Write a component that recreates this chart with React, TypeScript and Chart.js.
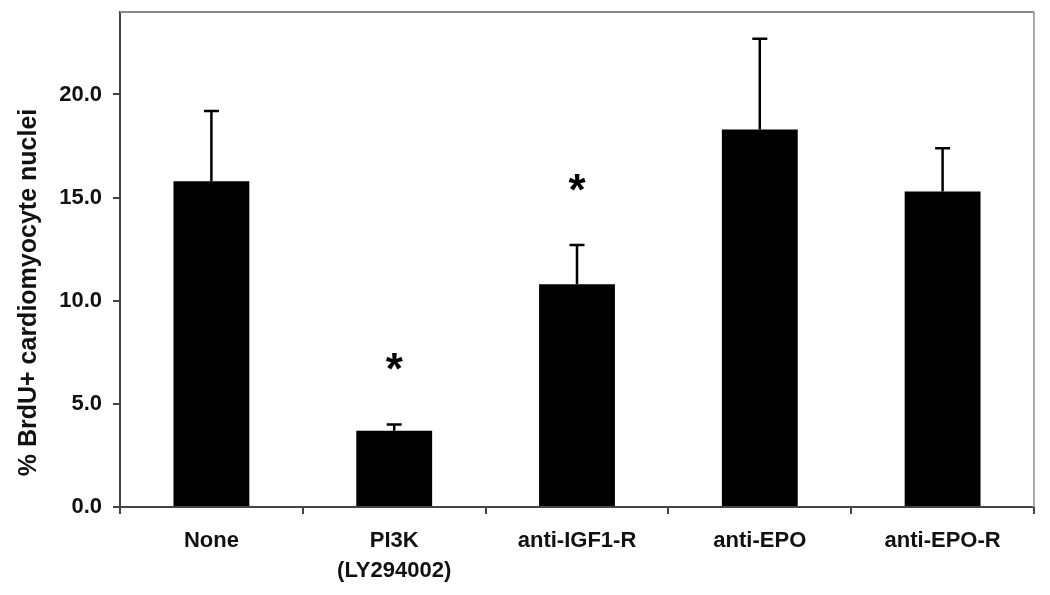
import React, { useEffect, useRef } from "react";
import { Chart, registerables } from "chart.js";

Chart.register(...registerables);

const categories: (string | string[])[] = ["None", ["PI3K", "(LY294002)"], "anti-IGF1-R", "anti-EPO", "anti-EPO-R"];
const means: number[] = [15.8, 3.7, 10.8, 18.3, 15.3];
const errors: number[] = [3.4, 0.3, 1.9, 4.4, 2.1];
const significant: boolean[] = [false, true, true, false, false];
const yTicks: number[] = [0, 5, 10, 15, 20];
const yTitle = "% BrdU+ cardiomyocyte nuclei";

const FONT = "'Liberation Sans', Arial, Helvetica, sans-serif";

const decorPlugin = {
  id: "decor",
  afterDatasetsDraw(chart: any) {
    const ctx = chart.ctx;
    const meta = chart.getDatasetMeta(0);
    const yScale = chart.scales.y;
    const area = chart.chartArea;
    ctx.save();
    // error bars
    ctx.strokeStyle = "#000";
    ctx.lineWidth = 2.5;
    meta.data.forEach((bar: any, i: number) => {
      const x = bar.x;
      const yTop = yScale.getPixelForValue(means[i] + errors[i]);
      const yBase = yScale.getPixelForValue(means[i]);
      ctx.beginPath();
      ctx.moveTo(x, yBase);
      ctx.lineTo(x, yTop);
      ctx.moveTo(x - 7.5, yTop);
      ctx.lineTo(x + 7.5, yTop);
      ctx.stroke();
      if (significant[i]) {
        ctx.font = `bold 44px ${FONT}`;
        ctx.fillStyle = "#000";
        ctx.textAlign = "center";
        ctx.textBaseline = "alphabetic";
        const m = ctx.measureText("*");
        const asc = m.actualBoundingBoxAscent || 31;
        const desc = m.actualBoundingBoxDescent || -18;
        const cy = yTop - 63;
        const baseline = cy + (asc - desc) / 2;
        ctx.fillText("*", x, baseline);
      }
    });
    // frame top and right
    ctx.lineWidth = 2;
    ctx.strokeStyle = "#8a8a8a";
    ctx.beginPath();
    ctx.moveTo(area.left, area.top);
    ctx.lineTo(area.right, area.top);
    ctx.stroke();
    ctx.strokeStyle = "#ababab";
    ctx.beginPath();
    ctx.moveTo(area.right, area.top);
    ctx.lineTo(area.right, area.bottom);
    ctx.stroke();
    // y title
    ctx.translate(29, (area.top + area.bottom) / 2 + 33);
    ctx.rotate(-Math.PI / 2);
    ctx.font = `bold 25px ${FONT}`;
    ctx.fillStyle = "#111";
    ctx.textAlign = "center";
    ctx.textBaseline = "middle";
    ctx.fillText(yTitle, 0, 0);
    ctx.restore();
  },
};

export default function App() {
  const canvasRef = useRef<HTMLCanvasElement | null>(null);

  useEffect(() => {
    if (!canvasRef.current) return;
    const chart = new Chart(canvasRef.current, {
      type: "bar",
      data: {
        labels: categories,
        datasets: [
          {
            data: means,
            backgroundColor: "#000",
            borderWidth: 0,
            categoryPercentage: 1,
            barPercentage: 0.415,
          },
        ],
      },
      options: {
        animation: false,
        responsive: true,
        maintainAspectRatio: false,
        layout: { padding: { left: 0, top: 12, right: 16, bottom: 0 } },
        plugins: {
          legend: { display: false },
          tooltip: { enabled: false },
          title: { display: false },
        },
        scales: {
          x: {
            grid: {
              display: true,
              drawOnChartArea: false,
              drawTicks: true,
              tickLength: 7,
              color: "#444",
              lineWidth: 2,
              offset: true,
            },
            border: { display: true, color: "#444", width: 2 },
            ticks: {
              color: "#111",
              font: { family: FONT, size: 22, weight: "bold", lineHeight: 1.37 },
              padding: 12,
              maxRotation: 0,
              autoSkip: false,
            },
            afterFit(scale: any) {
              scale.height = 88;
            },
          },
          y: {
            min: 0,
            max: 24,
            grid: {
              display: true,
              drawOnChartArea: false,
              drawTicks: true,
              tickLength: 7,
              color: "#444",
              lineWidth: 2,
            },
            border: { display: true, color: "#444", width: 2 },
            afterBuildTicks(scale: any) {
              scale.ticks = yTicks.map((v) => ({ value: v }));
            },
            ticks: {
              color: "#111",
              font: { family: FONT, size: 22, weight: "bold" },
              padding: 11,
              includeBounds: false,
              callback: (v: any) => Number(v).toFixed(1),
            },
            afterFit(scale: any) {
              scale.width = 120;
              scale.paddingTop = 0;
              scale.paddingBottom = 0;
            },
          },
        },
      },
      plugins: [decorPlugin],
    } as any);
    return () => chart.destroy();
  }, []);

  return (
    <div style={{ position: "absolute", left: 0, top: 0, width: 1050, height: 595, background: "#fff" }}>
      <canvas ref={canvasRef} />
    </div>
  );
}
